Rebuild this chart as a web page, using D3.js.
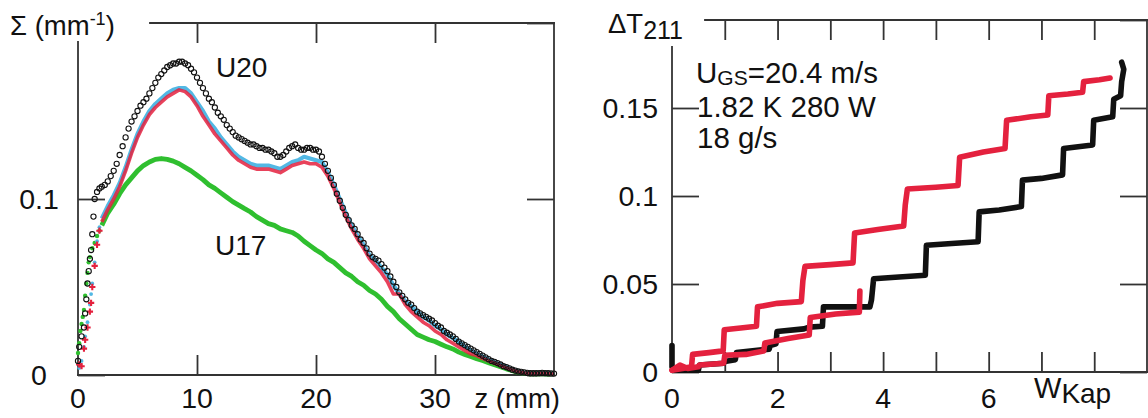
<!DOCTYPE html>
<html><head><meta charset="utf-8">
<script src="https://cdn.jsdelivr.net/npm/d3@7"></script>
<style>
html,body{margin:0;padding:0;background:#fff;}
svg{display:block;font-family:"Liberation Sans",Arial,Helvetica,sans-serif;}
</style></head><body>
<svg id="c" width="1148" height="418"></svg>
<script>
// ---------- Left panel data: Sigma (mm^-1) vs z (mm) ----------
const zMain = [2,2.5,3,3.5,4,4.5,5,5.5,6,6.5,7,7.5,8,8.5,9,9.5,10,10.5,11,11.5,12,12.5,13,13.5,14,14.5,15,15.5,16,16.5,17,17.5,18,18.5,19,19.5,20,20.5,21,21.5,22,22.5,23,23.5,24,24.5,25,25.5,26,26.5,27,27.5,28,28.5,29,29.5,30,30.5,31,31.5,32,32.5,33,33.5,34,34.5,35,35.5,36,36.5,37,37.5,38,38.5,39,39.5,40];
const blackMain = [0.107,0.110,0.116,0.125,0.135,0.144,0.150,0.155,0.160,0.166,0.171,0.175,0.177,0.178,0.177,0.174,0.169,0.163,0.157,0.152,0.147,0.142,0.138,0.135,0.133,0.131,0.130,0.129,0.128,0.126,0.124,0.127,0.130,0.129,0.128,0.129,0.128,0.124,0.116,0.108,0.099,0.091,0.085,0.080,0.075,0.069,0.066,0.063,0.059,0.053,0.047,0.043,0.040,0.036,0.034,0.032,0.0295,0.027,0.024,0.022,0.019,0.017,0.015,0.013,0.011,0.009,0.0075,0.006,0.0045,0.003,0.002,0.0015,0.001,0.001,0.0012,0.001,0.0008];
const zMid = [2.25,2.75,3.25,3.75,4.25,4.75,5.25,5.75,6.25,6.75,7.25,7.75,8.25,8.75,9.25,9.75,10.25,10.75,11.25,11.75,12.25,12.75,13.25,13.75,14.25,14.75,15.25,15.75,16.25,16.75,17.25,17.75,18.25,18.75,19.25,19.75,20.25,20.75,21.25,21.75,22.25,22.75,23.25,23.75,24.25,24.75,25.25,25.75,26.25,26.75,27.25,27.75,28.25,28.75,29.25,29.75,30.25,30.75,31.25,31.75,32.25,32.75,33.25,33.75,34.25,34.75,35.25,35.75,36.25,36.75,37.25,37.75,38.25,38.75,39.25,39.75];
const blackMid = [0.108,0.113,0.120,0.130,0.140,0.147,0.153,0.157,0.163,0.169,0.173,0.176,0.177,0.178,0.176,0.172,0.166,0.160,0.155,0.149,0.145,0.140,0.136,0.134,0.132,0.131,0.129,0.128,0.127,0.124,0.125,0.129,0.131,0.128,0.129,0.128,0.127,0.120,0.112,0.103,0.095,0.088,0.083,0.077,0.072,0.067,0.065,0.061,0.056,0.050,0.045,0.041,0.038,0.035,0.033,0.031,0.028,0.025,0.023,0.0205,0.018,0.016,0.014,0.012,0.010,0.008,0.0068,0.005,0.0038,0.0025,0.0018,0.0012,0.001,0.0011,0.0011,0.0009];
const cyanMain = [0.089,0.096,0.102,0.109,0.118,0.128,0.137,0.144,0.150,0.154,0.157,0.160,0.162,0.163,0.163,0.160,0.155,0.150,0.144,0.140,0.135,0.131,0.127,0.124,0.122,0.120,0.119,0.119,0.119,0.118,0.117,0.119,0.121,0.122,0.124,0.123,0.122,0.121,0.115,0.108,0.100,0.092,0.085,0.079,0.074,0.068,0.065,0.061,0.057,0.051,0.046,0.042,0.039,0.036,0.033,0.031,0.028,0.026,0.023,0.021,0.019,0.016,0.014,0.012,0.0105,0.0088,0.0072,0.0058,0.0044,0.003,0.002,0.0012,0.0008,0.0008,0.001,0.0008,0.0006];
const redMain = [0.087,0.094,0.100,0.107,0.116,0.126,0.135,0.142,0.148,0.152,0.155,0.158,0.160,0.162,0.161,0.158,0.153,0.147,0.142,0.137,0.133,0.129,0.125,0.122,0.120,0.118,0.117,0.117,0.117,0.116,0.115,0.117,0.119,0.120,0.121,0.120,0.120,0.118,0.113,0.106,0.098,0.090,0.083,0.077,0.072,0.066,0.062,0.058,0.053,0.046,0.046,0.040,0.036,0.033,0.030,0.028,0.025,0.023,0.020,0.018,0.016,0.014,0.012,0.011,0.0095,0.008,0.0066,0.0053,0.004,0.0028,0.0018,0.0011,0.0008,0.0007,0.0009,0.0007,0.0005];
const greenMain = [0.085,0.092,0.097,0.103,0.108,0.112,0.116,0.119,0.121,0.1225,0.123,0.1225,0.1215,0.120,0.118,0.116,0.1135,0.111,0.108,0.106,0.1035,0.101,0.0985,0.0965,0.0945,0.0926,0.090,0.088,0.086,0.085,0.083,0.082,0.081,0.079,0.076,0.0735,0.071,0.069,0.066,0.064,0.061,0.058,0.056,0.053,0.051,0.048,0.046,0.043,0.039,0.036,0.032,0.029,0.026,0.023,0.0215,0.020,0.019,0.0175,0.016,0.0148,0.013,0.0117,0.0105,0.0093,0.0082,0.007,0.0058,0.0047,0.0035,0.0025,0.0015,0.001,0.0006,0.0006,0.0008,0.0005,0.0008];
// steep rise near z = 0 (separate markers)
const zStartBlack = [0,0.1,0.3,0.5,0.6,0.7,0.8,0.9,1.0,1.1,1.2,1.3,1.4,1.6,1.8];
const blackStart  = [0.008,0.016,0.022,0.027,0.035,0.043,0.052,0.059,0.066,0.071,0.080,0.090,0.100,0.104,0.106];
const zStartCR    = [0.1,0.3,0.5,0.6,0.8,1.0,1.1,1.2,1.4,1.6,1.8];
const cyanStart   = [0.004,0.008,0.016,0.022,0.030,0.040,0.046,0.052,0.064,0.076,0.084];
const redStart    = [0.006,0.005,0.015,0.020,0.027,0.036,0.041,0.050,0.062,0.074,0.082];
const zStartGreen = [0,0.1,0.2,0.3,0.4,0.5,0.6,0.7,0.8,0.9,1.0,1.2,1.4,1.6,1.8];
const greenStart  = [0.0125,0.018,0.025,0.029,0.033,0.037,0.045,0.052,0.058,0.064,0.067,0.072,0.075,0.079,0.082];

// ---------- Right panel data: Delta T211 vs W_Kap ----------
const wBlack = [0,0,0.05,0.5,0.52,0.98,1.0,1.2,1.22,1.84,1.86,1.97,1.99,2.5,2.6,2.85,2.87,3.3,3.75,3.78,3.82,4.3,4.8,4.82,5.3,5.8,5.82,6.2,6.62,6.64,7.0,7.4,7.42,7.97,7.99,8.35,8.37,8.5,8.52,8.56,8.52];
const tBlack = [0.015,0.003,0.001,0.001,0.004,0.005,0.006,0.007,0.011,0.013,0.015,0.016,0.023,0.0245,0.0255,0.026,0.037,0.037,0.037,0.041,0.053,0.054,0.055,0.072,0.073,0.074,0.091,0.092,0.094,0.109,0.110,0.112,0.127,0.129,0.143,0.145,0.155,0.157,0.165,0.172,0.176];
const wRedA = [0,0.2,0.37,0.39,0.7,0.97,0.99,1.3,1.6,1.62,2.0,2.45,2.48,2.52,3.0,3.43,3.46,3.9,4.39,4.42,4.46,5.0,5.42,5.45,5.9,6.31,6.34,6.8,7.12,7.14,7.5,7.78,7.8,8.1,8.3];
const tRedA = [0.001,0.002,0.003,0.010,0.011,0.012,0.024,0.025,0.026,0.037,0.039,0.040,0.052,0.060,0.061,0.062,0.079,0.081,0.083,0.095,0.104,0.105,0.106,0.122,0.125,0.127,0.143,0.145,0.146,0.157,0.158,0.159,0.165,0.166,0.167];
const wRedB = [0,0.15,0.3,0.5,0.52,0.98,1.0,1.4,1.74,1.76,2.2,2.6,2.62,3.1,3.55,3.56];
const tRedB = [0.001,0.004,0.002,0.003,0.004,0.005,0.0095,0.010,0.012,0.0165,0.019,0.021,0.031,0.033,0.034,0.046];

// ticks / labels
const xTicksL = [10,20,30], yTicksL = [0,0.1,0.2];
const xLabelsL = [0,10,20,30], yLabelsL = [0,0.1];
const xTicksR = [1,2,3,4,5,6,7,8], yTicksR = [0,0.05,0.1,0.15,0.2];
const xLabelsR = [0,2,4,6], yLabelsR = [0,0.05,0.1,0.15];

const INK = "#333", TXT = "#111";
const C_BLACK = "#111", C_CYAN = "#52b8e4", C_RED = "#e4213e", C_GREEN = "#2fbf2f";
const FS = 28.5;
const svg = d3.select("#c");

const xL = d3.scaleLinear().domain([0,40]).range([78,554]);
const yL = d3.scaleLinear().domain([0,0.2]).range([375,23]);
const xR = d3.scaleLinear().domain([0,9]).range([672,1147]);
const yR = d3.scaleLinear().domain([0,0.2]).range([372,20]);

function ticks(x, y, xt, yt) {
  const g = svg.append("g");
  const [x0,x1] = x.range(), [y0,y1] = y.range();
  g.append("g").attr("transform",`translate(0,${y0})`).call(d3.axisBottom(x).tickValues(xt).tickSize(-20).tickFormat(""));
  g.append("g").attr("transform",`translate(0,${y1})`).call(d3.axisTop(x).tickValues(xt).tickSize(-20).tickFormat(""));
  g.append("g").attr("transform",`translate(${x0},0)`).call(d3.axisLeft(y).tickValues(yt).tickSize(-27).tickFormat(""));
  g.append("g").attr("transform",`translate(${x1},0)`).call(d3.axisRight(y).tickValues(yt).tickSize(-27).tickFormat(""));
  g.selectAll(".domain").remove();
  g.selectAll(".tick line").attr("stroke",INK).attr("stroke-width",1.8);
}
function frame(x, y, topStart, leftStart) {
  const [x0,x1] = x.range(), [y0,y1] = y.range();
  const segs = [[topStart,y1,x1,y1],[x0,leftStart,x0,y0],[x0,y0,x1,y0],[x1,y1,x1,y0]];
  svg.append("g").selectAll("line").data(segs).join("line")
    .attr("x1",d=>d[0]).attr("y1",d=>d[1]).attr("x2",d=>d[2]).attr("y2",d=>d[3])
    .attr("stroke",INK).attr("stroke-width",1.8).attr("stroke-linecap","square");
}

// ===== Left panel =====
ticks(xL, yL, xTicksL, yTicksL);
svg.append("rect").attr("x",0).attr("y",0).attr("width",150).attr("height",42).attr("fill","#fff");
frame(xL, yL, 150, 42);

const gL = svg.append("g");
const lineL = (zs) => d3.line().x((d,i)=>xL(zs[i])).y(d=>yL(d));
gL.append("path").attr("d", lineL(zMain)(greenMain)).attr("fill","none").attr("stroke",C_GREEN).attr("stroke-width",4.8).attr("stroke-linejoin","round");
gL.selectAll(null).data(greenStart).join("circle").attr("cx",(d,i)=>xL(zStartGreen[i])).attr("cy",d=>yL(d)).attr("r",2.2).attr("fill",C_GREEN);
gL.append("path").attr("d", lineL(zMain)(cyanMain)).attr("fill","none").attr("stroke",C_CYAN).attr("stroke-width",4.2).attr("stroke-linejoin","round");
gL.selectAll(null).data(cyanStart).join("circle").attr("cx",(d,i)=>xL(zStartCR[i])).attr("cy",d=>yL(d)).attr("r",1.9).attr("fill",C_CYAN);
gL.append("path").attr("d", lineL(zMain)(redMain)).attr("fill","none").attr("stroke",C_RED).attr("stroke-width",3.6).attr("stroke-opacity",0.85).attr("stroke-linejoin","round");
gL.selectAll(null).data(redStart).join("path").attr("transform",(d,i)=>`translate(${xL(zStartCR[i])},${yL(d)})`)
  .attr("d", d3.symbol(d3.symbolCross, 22)).attr("fill",C_RED);
const blackZ = zStartBlack.concat(zMain, zMid), blackV = blackStart.concat(blackMain, blackMid);
gL.selectAll(null).data(blackV).join("circle").attr("cx",(d,i)=>xL(blackZ[i])).attr("cy",d=>yL(d)).attr("r",2.6)
  .attr("fill","none").attr("stroke",C_BLACK).attr("stroke-width",1.1);

// left labels
svg.selectAll(null).data(xLabelsL).join("text").attr("x",d=>xL(d)).attr("y",408).attr("text-anchor","middle")
  .attr("font-size",FS).attr("fill",TXT).text(d=>d);
svg.selectAll(null).data(yLabelsL).join("text").attr("x",39).attr("y",d=>yL(d)+10).attr("text-anchor","middle")
  .attr("font-size",FS).attr("fill",TXT).text(d=>d);
svg.append("text").attr("x",560).attr("y",408).attr("text-anchor","end").attr("font-size",27.5).attr("fill",TXT).text("z (mm)");
const sig = svg.append("text").attr("x",10).attr("y",35).attr("font-size",27.5).attr("fill",TXT);
sig.append("tspan").text("Σ (mm");
sig.append("tspan").attr("font-size",18).attr("dy",-10).text("-1");
sig.append("tspan").attr("dy",10).text(")");
svg.append("text").attr("x",216).attr("y",77).attr("font-size",28).attr("fill",TXT).text("U20");
svg.append("text").attr("x",215).attr("y",255).attr("font-size",28).attr("fill",TXT).text("U17");

// ===== Right panel =====
ticks(xR, yR, xTicksR, yTicksR);
svg.append("rect").attr("x",580).attr("y",0).attr("width",125).attr("height",47).attr("fill","#fff");
frame(xR, yR, 705, 47);

const gR = svg.append("g");
const lineR = (ws) => d3.line().x((d,i)=>xR(ws[i])).y(d=>yR(d));
[[wBlack,tBlack,C_BLACK],[wRedB,tRedB,C_RED],[wRedA,tRedA,C_RED]].forEach(([w,t,c]) => {
  gR.append("path").attr("d", lineR(w)(t)).attr("fill","none").attr("stroke",c).attr("stroke-width",5.6)
    .attr("stroke-linejoin","round").attr("stroke-linecap","round");
});

svg.selectAll(null).data(xLabelsR).join("text").attr("x",d=>xR(d)).attr("y",408).attr("text-anchor","middle")
  .attr("font-size",FS).attr("fill",TXT).text(d=>d);
svg.selectAll(null).data(yLabelsR).join("text").attr("x",658).attr("y",d=>yR(d)+10).attr("text-anchor","end")
  .attr("font-size",FS).attr("fill",TXT).text(d=>d);
const dt = svg.append("text").attr("x",608).attr("y",33).attr("font-size",27.5).attr("fill",TXT);
dt.append("tspan").text("ΔT");
dt.append("tspan").attr("font-size",25).attr("dy",6).text("211");
const wk = svg.append("text").attr("x",1034).attr("y",398).attr("font-size",29).attr("fill",TXT);
wk.append("tspan").text("W");
wk.append("tspan").attr("font-size",28).attr("dy",5).text("Kap");
const a1 = svg.append("text").attr("x",696).attr("y",83).attr("font-size",29.5).attr("fill",TXT);
a1.append("tspan").text("U");
a1.append("tspan").attr("font-size",21).attr("dy",2).text("GS");
a1.append("tspan").attr("dy",-2).text("=20.4 m/s");
svg.append("text").attr("x",697).attr("y",117).attr("font-size",29.5).attr("fill",TXT).text("1.82 K 280 W");
svg.append("text").attr("x",697).attr("y",148).attr("font-size",29.5).attr("fill",TXT).text("18 g/s");
</script>
</body></html>
